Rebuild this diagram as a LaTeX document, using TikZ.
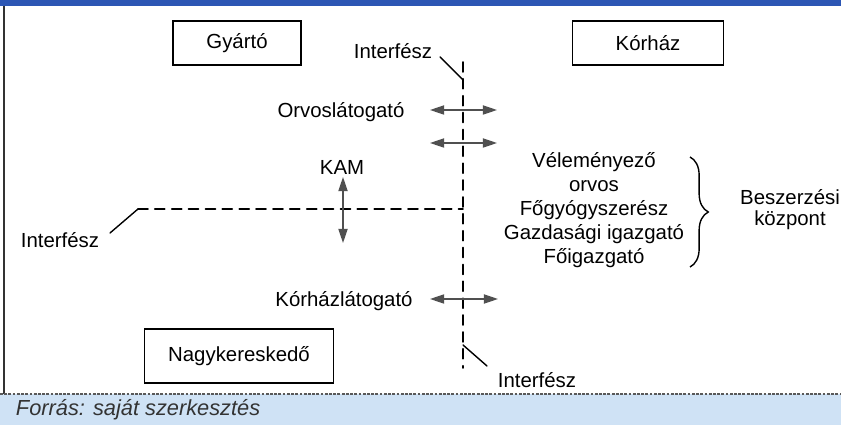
\documentclass[tikz,border=0pt]{standalone}
\usepackage{fontspec}
\setmainfont{Liberation Sans}
\usepackage{tkz-euclide}
\usetikzlibrary{arrows.meta,decorations.pathreplacing}
\definecolor{barblue}{HTML}{2C56B4}
\definecolor{footblue}{HTML}{CFE2F5}
\definecolor{flowgray}{HTML}{505050}

\tikzset{
  party/.style={draw,line width=1pt,font=\fontsize{14.5}{17}\selectfont,inner sep=0pt},
  lbl/.style={font=\fontsize{14.5}{17}\selectfont,inner sep=1pt},
  iface/.style={line width=1.3pt,dash pattern=on 7pt off 5pt},
  leader/.style={line width=1pt},
  flow/.style={flowgray,line width=1pt,
    {Triangle[length=10pt,width=6.5pt]}-{Triangle[length=10pt,width=6.5pt]}}
}

\begin{document}
\begin{tikzpicture}[x=0.025cm,y=-0.025cm]
\useasboundingbox (0,0) rectangle (841,425);
% frame and footer
\fill[barblue] (0,0) rectangle (841,6);
\fill[footblue] (0,394) rectangle (841,425);
\draw[line width=1.5pt,black!80] (4,6) -- (4,394);
\draw[line width=1.2pt,black!65,dash pattern=on 2pt off 1pt] (0,394) -- (841,394);
\node[anchor=west,font=\fontsize{15.5}{17}\selectfont\itshape,text=black!80] (src) at (11,410) {Forrás: saját szerkesztés};

% parties
\node[party,minimum width=3.2cm,minimum height=1.1cm] (gyarto) at (237,43) {Gyártó};
\node[party,minimum width=3.775cm,minimum height=1.1cm] (korhaz) at (648,43) {Kórház};
\node[party,minimum width=4.725cm,minimum height=1.35cm] (nagyker) at (239,356) {Nagykereskedő};

% interface lines
\tkzDefPoint(463,62){T}\tkzDefPoint(463,368){U}
\tkzDefPoint(463,209){C}\tkzDefPoint(138,209){L}
\tkzDefPoint(463,80){Tj}\tkzDefPoint(463,345){Uj}
\tkzDrawSegments[iface](T,U L,C)

% interface labels
\node[lbl] (ifTop) at (393,51) {Interfész};
\node[lbl] (ifLeft) at (60,240) {Interfész};
\node[lbl] (ifBot) at (537,380) {Interfész};
\tkzDefPoint(440,57){a1}\tkzDefPoint(110,233){a2}\tkzDefPoint(487,366){a3}
\tkzDrawSegments[leader](a1,Tj a2,L Uj,a3)

% flows across the interface
\node[lbl] (orvos) at (341,112) {Orvoslátogató};
\node[lbl] (kam) at (342,167) {KAM};
\node[lbl] (khlat) at (344,301) {Kórházlátogató};
\tkzDefPoint(430,110){o1}\tkzDefPoint(497,110){o2}
\tkzDefPoint(430,143){m1}\tkzDefPoint(497,143){m2}
\tkzDefPoint(343,177){k1}\tkzDefPoint(343,243){k2}
\tkzDefPoint(430,299){h1}\tkzDefPoint(498,299){h2}
\tkzDrawSegments[flow](o1,o2 m1,m2 k1,k2 h1,h2)

% buying centre
\node[lbl,align=center,font=\fontsize{14.5}{17}\selectfont] (roles) at (594,210)
  {Véleményező\\orvos\\Főgyógyszerész\\Gazdasági igazgató\\Főigazgató};
\tkzDefPoint(690,157){b1}\tkzDefPoint(690,267){b2}
\draw[line width=1pt,decorate,decoration={brace,amplitude=13pt}] (b1) -- (b2);
\node[lbl,align=center,font=\fontsize{14.5}{15}\selectfont] (bk) at (790,210)
  {Beszerzési\\központ};
\end{tikzpicture}
\end{document}
